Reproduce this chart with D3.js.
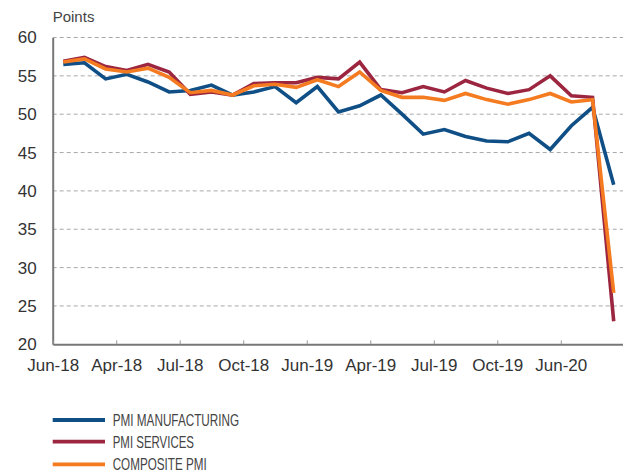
<!DOCTYPE html>
<html>
<head>
<meta charset="utf-8">
<script src="https://cdn.jsdelivr.net/npm/d3@7"></script>
<style>
  html, body { margin: 0; padding: 0; background: #fff; }
  svg { display: block; }
  text { font-family: "Liberation Sans", Arial, Helvetica, sans-serif; }
</style>
</head>
<body>
<svg id="chart" width="623" height="475"></svg>
<script>
// ---- data (27 monthly observations) ----
const monthIndex = d3.range(27);
const manufacturing = [56.5, 56.7, 54.6, 55.2, 54.2, 52.9, 53.1, 53.8, 52.5, 52.9, 53.6, 51.5, 53.6, 50.3,
                       51.1, 52.5, 50.0, 47.4, 48.0, 47.1, 46.5, 46.4, 47.5, 45.4, 48.5, 50.9, 40.8];
const services      = [56.9, 57.4, 56.2, 55.7, 56.5, 55.5, 52.6, 52.9, 52.5, 54.0, 54.1, 54.1, 54.8, 54.6,
                       56.8, 53.2, 52.8, 53.6, 52.9, 54.4, 53.4, 52.7, 53.2, 55.0, 52.4, 52.2, 23.0];
const composite     = [56.8, 57.2, 55.9, 55.5, 56.0, 54.8, 52.8, 53.1, 52.5, 53.7, 53.9, 53.5, 54.5, 53.6,
                       55.5, 53.1, 52.2, 52.2, 51.8, 52.7, 51.9, 51.3, 51.9, 52.7, 51.6, 51.9, 26.7];
const tickPositions = [0, 3, 6, 9, 12, 15, 18, 21, 24];
const tickLabels = ["Jun-18", "Apr-18", "Jul-18", "Oct-18", "Jun-19", "Apr-19", "Jul-19", "Oct-19", "Jun-20"];
const yTicks = [20, 25, 30, 35, 40, 45, 50, 55, 60];
const seriesNames = ["PMI MANUFACTURING", "PMI SERVICES", "COMPOSITE PMI"];
const seriesColors = ["#0f4f86", "#9c2640", "#f47b20"];

const series = [manufacturing, services, composite];

const svg = d3.select("#chart");
const plotLeft = 52.7, plotRight = 624.3, plotTop = 37.5, plotBottom = 344.3;

const x = d3.scaleLinear().domain([0, monthIndex.length]).range([plotLeft, plotRight]);
const y = d3.scaleLinear().domain([20, 60]).range([plotBottom, plotTop]);

// grid lines
svg.append("g")
  .selectAll("line")
  .data(yTicks.filter(v => v > 20))
  .join("line")
  .attr("x1", plotLeft).attr("x2", 623)
  .attr("y1", d => y(d)).attr("y2", d => y(d))
  .attr("stroke", "#a8a8a8")
  .attr("stroke-width", 1)
  .attr("stroke-dasharray", "4,3");

// y axis
const yAxis = svg.append("g")
  .attr("transform", `translate(${plotLeft},0)`)
  .call(d3.axisLeft(y).tickValues(yTicks).tickSize(0).tickPadding(16).tickFormat(d3.format("d")));
yAxis.select(".domain").attr("stroke", "#777").attr("stroke-width", 2);
yAxis.selectAll("text").attr("font-size", 17).attr("fill", "#333")
  .attr("font-family", "'Liberation Sans', Arial, sans-serif");

// x axis
const xAxis = svg.append("g")
  .attr("transform", `translate(0,${plotBottom})`)
  .call(d3.axisBottom(x).tickValues(tickPositions).tickSizeInner(-4).tickSizeOuter(0)
    .tickFormat((d, i) => tickLabels[i]));
xAxis.select(".domain").attr("stroke", "#777").attr("stroke-width", 2);
xAxis.selectAll(".tick line").attr("stroke", "#999").attr("stroke-width", 1);
xAxis.selectAll("text").attr("font-size", 17).attr("fill", "#333")
  .attr("y", 27).attr("dy", 0)
  .attr("font-family", "'Liberation Sans', Arial, sans-serif");

// axis title
svg.append("text")
  .attr("x", plotLeft).attr("y", 21.5)
  .attr("font-size", 15).attr("fill", "#444")
  .text("Points");

// lines
const line = d3.line()
  .x((d, i) => x(monthIndex[i] + 0.5))
  .y(d => y(d))
  .curve(d3.curveLinear);

series.forEach((s, k) => {
  svg.append("path")
    .datum(s)
    .attr("fill", "none")
    .attr("stroke", seriesColors[k])
    .attr("stroke-width", 3.6)
    .attr("stroke-linejoin", "miter")
    .attr("d", line);
});

// legend
const legendRows = [420, 441.7, 464.3];
const legendWidths = [126.5, 81.3, 94];
const lg = svg.append("g");
seriesNames.forEach((name, k) => {
  lg.append("line")
    .attr("x1", 52.7).attr("x2", 105)
    .attr("y1", legendRows[k]).attr("y2", legendRows[k])
    .attr("stroke", seriesColors[k]).attr("stroke-width", 3.8);
  lg.append("text")
    .attr("x", 112.7).attr("y", legendRows[k] + 6)
    .attr("font-size", 16.5).attr("fill", "#444")
    .attr("textLength", legendWidths[k])
    .attr("lengthAdjust", "spacingAndGlyphs")
    .text(name);
});
</script>
</body>
</html>
